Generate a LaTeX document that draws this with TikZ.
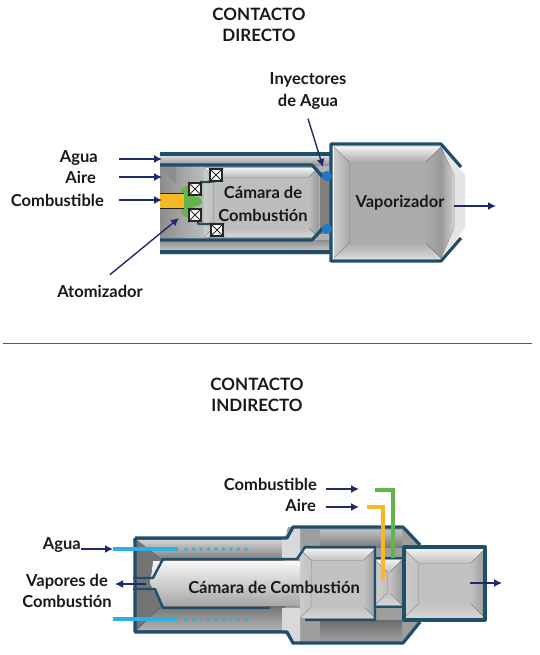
\documentclass[tikz,border=0pt]{standalone}
\usepackage{fontspec}
\setmainfont{Lato}
\usepackage{xcolor}
\usetikzlibrary{arrows.meta}
\definecolor{muro}{HTML}{1F4E6B}
\definecolor{flechaazul}{HTML}{1F2A6B}
\definecolor{agua}{HTML}{2FB0E4}
\definecolor{gota}{HTML}{1F78C8}
\definecolor{comb}{HTML}{F5B921}
\definecolor{verde}{HTML}{63B54A}
\colorlet{caja}{black!33}
\tikzset{
  muroline/.style={draw=muro,line width=3.2pt,line join=round},
  flecha/.style={draw=flechaazul,line width=1.4pt,-{Latex[length=8pt,width=8pt]}},
  rotulo/.style={font=\fontsize{16.5}{19}\selectfont\bfseries,text=black!90,align=center,inner sep=0pt},
  titulo/.style={rotulo,font=\fontsize{17}{19}\selectfont\bfseries},
  valvula/.style={draw=black!85,line width=2.4pt,fill=white,minimum size=12pt,inner sep=0pt},
}
\newcommand{\cajabisel}[5]{
  \fill[caja] (#1,#2) rectangle (#3,#4);
  \fill[top color=black!6,bottom color=caja] (#1,#2) -- (#3,#2) -- (#3-#5,#2+#5) -- (#1+#5,#2+#5) -- cycle;
  \fill[bottom color=black!16,top color=caja] (#1,#4) -- (#3,#4) -- (#3-#5,#4-#5) -- (#1+#5,#4-#5) -- cycle;
  \fill[left color=black!20,right color=caja] (#1,#2) -- (#1+#5,#2+#5) -- (#1+#5,#4-#5) -- (#1,#4) -- cycle;
  \fill[right color=black!40,left color=caja] (#3,#2) -- (#3-#5,#2+#5) -- (#3-#5,#4-#5) -- (#3,#4) -- cycle;
}
\newcommand{\cruz}[1]{
  \node[valvula] (#1) at (#1) {};
  \draw[black!85,line width=.8pt] (#1.north west) -- (#1.south east) (#1.north east) -- (#1.south west);
}
\begin{document}
\begin{tikzpicture}[x=1pt,y=-1pt]
\useasboundingbox (0,0) rectangle (539,655);
\node[titulo] (tituloA) at (259,25) {CONTACTO\\[2pt]DIRECTO};
\draw[black!65,line width=.8pt] (3,343) -- (532,343);
\node[titulo] (tituloB) at (257,395) {CONTACTO\\[2pt]INDIRECTO};

\fill[top color=black!12,bottom color=black!45] (160,155) rectangle (332,166);
\fill[top color=black!45,bottom color=black!15] (160,240) rectangle (332,254);
\fill[left color=black!45,right color=black!25] (160,166) rectangle (206,240);
\fill[black!45] (160,166) -- (176,166) -- (176,184) -- cycle;
\fill[black!30] (206,166) rectangle (332,240);
\colorlet{caja}{black!26}
\cajabisel{204}{168}{318}{237}{9}
\fill[black!50] (320,172) rectangle (332,234);
\draw[muroline,line width=4pt] (160,154) -- (332,154);
\draw[muroline,line width=4pt] (160,252) -- (332,252);
\draw[muroline] (160,165) -- (312,165) -- (323,177);
\draw[muroline] (160,240) -- (312,240) -- (323,228);
\colorlet{caja}{black!33}
\cajabisel{334}{147}{441}{258}{15}
\fill[black!10] (441,147) -- (465,175) -- (465,228) -- (441,258) -- cycle;
\fill[left color=black!40,right color=black!18] (441,147) -- (454,175) -- (454,228) -- (441,258) -- cycle;
\draw[muroline] (331,262) -- (331,144) -- (441,144) -- (461,167);
\draw[muroline] (331,261) -- (441,261) -- (461,238);
\fill[gota] (327,176) circle (5);
\fill[gota] (327,229) circle (5);

\fill[verde,rounded corners=4pt] (181,188) -- (192,184) -- (192,197) -- (202,197) -- (202,206) -- (192,206) -- (192,219) -- (181,215) -- cycle;
\fill[comb] (160,193) rectangle (184,208);
\draw[black!85,line width=1pt] (160,193) -- (184,193) (160,208) -- (184,208);
\draw[muro,line width=2.4pt] (200,182) -- (208,182) -- (216,181);
\draw[muro,line width=2.4pt] (197,223) -- (200,224) -- (216,224);
\coordinate (v1) at (195,189);
\coordinate (v2) at (195,215);
\coordinate (v3) at (216,175);
\coordinate (v4) at (217,230);
\cruz{v1}
\cruz{v2}
\cruz{v3}
\cruz{v4}

\node[rotulo] (camaraA) at (263,204) {Cámara de\\[4pt]Combustión};
\node[rotulo] (vaporA) at (400,203) {Vaporizador};
\node[rotulo,anchor=east] (lblAgua) at (98,158) {Agua};
\node[rotulo,anchor=east] (lblAire) at (96,177) {Aire};
\node[rotulo,anchor=east] (lblComb) at (104,200) {Combustible};
\node[rotulo] (lblAtom) at (100,291) {Atomizador};
\node[rotulo] (lblIny) at (308,91) {Inyectores\\[3pt]de Agua};
\coordinate (aguaFin) at (162,159);
\coordinate (aireFin) at (162,177);
\coordinate (combFin) at (162,200);
\coordinate (atomFin) at (179,218);
\coordinate (inyFin) at (323,167);
\coordinate (vaporFin) at (496,206);
\draw[flecha] ([xshift=21pt,yshift=-1pt]lblAgua.east) -- (aguaFin);
\draw[flecha] ([xshift=23pt]lblAire.east) -- (aireFin);
\draw[flecha] ([xshift=15pt]lblComb.east) -- (combFin);
\draw[flecha] ([xshift=10pt,yshift=10pt]lblAtom.north) -- (atomFin);
\draw[flecha] ([yshift=-9pt]lblIny.south) -- (inyFin);
\draw[flecha] ([xshift=9pt,yshift=-3pt]vaporA.east) -- (vaporFin);

\fill[black!55] (135,538) rectangle (288,632);
\fill[top color=black!18,bottom color=black!48] (137,540) -- (288,540) -- (288,558) -- (160,558) -- cycle;
\fill[top color=black!52,bottom color=black!30] (160,608) -- (288,608) -- (288,630) -- (137,630) -- cycle;
\fill[black!38] (288,527) -- (403,527) -- (420,545) -- (420,622) -- (403,643) -- (293,643) -- (285,632) -- (285,538) -- cycle;
\fill[top color=black!25,bottom color=black!52] (320,530) rectangle (402,547);
\fill[top color=black!58,bottom color=black!38] (320,620) rectangle (402,641);
\fill[black!15] (282,538) -- (293,527) -- (300,527) -- (300,558) -- (282,558) -- cycle;
\fill[black!15] (282,608) -- (300,608) -- (300,643) -- (293,643) -- (282,632) -- cycle;
\fill[top color=black!3,bottom color=black!35] (153,561) -- (302,561) -- (302,606) -- (163,606) -- (150,584) -- cycle;
\colorlet{caja}{black!24}
\cajabisel{300}{549}{375}{618}{11}
\cajabisel{375}{560}{402}{605}{12}
\draw[muroline] (135,538) -- (287,538) -- (293,527) -- (403,527) -- (420,545);
\draw[muroline] (135,538) -- (135,632) -- (287,632) -- (293,643) -- (403,643) -- (420,622);
\draw[muroline,line width=2.4pt] (133,578) -- (153,578) -- (163,559) -- (297,559) -- (305,547) -- (375,547) -- (375,620) -- (305,620);
\draw[muroline,line width=2.4pt] (133,589) -- (155,589) -- (163,608) -- (270,608);
\draw[muroline,line width=2.4pt] (375,558) -- (402,558);
\draw[muroline,line width=2.4pt] (375,607) -- (402,607);
\cajabisel{404}{549}{485}{618}{14}
\draw[muroline] (404,547) rectangle (485,620);
\draw[agua,line width=3.8pt] (113,549) -- (178,549);
\draw[agua,line width=3.8pt] (113,619) -- (178,619);
\draw[agua,line width=3.6pt,line cap=round,dash pattern=on 0pt off 7.5pt] (186,549) -- (250,549);
\draw[agua,line width=3.6pt,line cap=round,dash pattern=on 0pt off 7.5pt] (186,620) -- (250,620);
\draw[verde,line width=3.4pt] (375,490) -- (393,490) -- (393,558);
\draw[comb,line width=3.4pt] (367,507) -- (383,507) -- (383,580);

\node[rotulo] (camaraB) at (274,587) {Cámara de Combustión};
\node[rotulo,anchor=east] (lblAguaB) at (81,545) {Agua};
\node[rotulo] (lblVapor) at (67,591) {Vapores de\\[2pt]Combustión};
\node[rotulo,anchor=east] (lblCombB) at (317,484) {Combustible};
\node[rotulo,anchor=east] (lblAireB) at (316,505) {Aire};
\coordinate (aguaBFin) at (113,549);
\coordinate (vaporBFin) at (115,584);
\coordinate (vaporBIni) at (146,584);
\coordinate (combBFin) at (359,489);
\coordinate (aireBFin) at (359,507);
\coordinate (salidaIni) at (470,583);
\coordinate (salidaFin) at (502,583);
\draw[flecha] ([yshift=-4pt]lblAguaB.east) -- (aguaBFin);
\draw[flecha] (vaporBIni) -- (vaporBFin);
\draw[flecha] ([xshift=9pt,yshift=-5pt]lblCombB.east) -- (combBFin);
\draw[flecha] ([xshift=10pt,yshift=-2pt]lblAireB.east) -- (aireBFin);
\draw[flecha] (salidaIni) -- (salidaFin);
\end{tikzpicture}
\end{document}
